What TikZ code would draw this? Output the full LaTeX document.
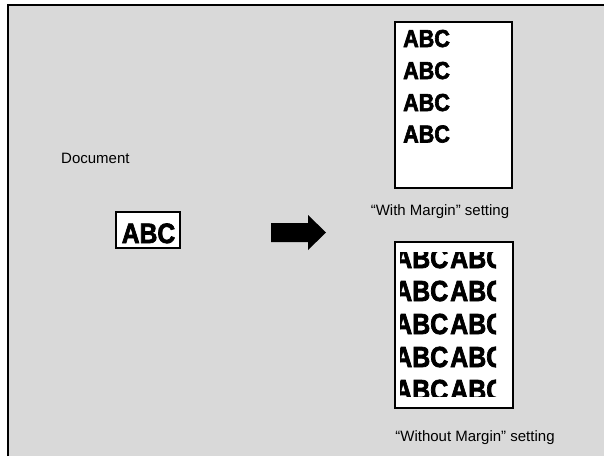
\documentclass[tikz,border=0pt]{standalone}
\usepackage{fontspec}
\setmainfont{Liberation Sans}
\newfontfamily\abcLarge[FakeStretch=0.88,FakeBold=2.5]{Liberation Sans}
\newfontfamily\abcSerre[FakeStretch=0.86,FakeBold=2.5]{Liberation Sans}
\usetikzlibrary{positioning}
\definecolor{fondGris}{RGB}{217,217,217}

\begin{document}
\begin{tikzpicture}[x=1pt, y=-1pt,
  page/.style={draw=black, line width=1.6pt, fill=white, inner sep=0pt},
  legende/.style={font=\fontsize{15}{17}\selectfont, inner sep=0pt},
  abc/.style={font=\abcLarge\bfseries\fontsize{24.5}{24}\selectfont, anchor=base west, inner sep=0pt},
  abcPlein/.style={font=\abcSerre\bfseries\fontsize{29}{29}\selectfont, anchor=base west, inner sep=0pt}]

\useasboundingbox (0,0) rectangle (604,456);
\fill[fondGris] (8,5) rectangle (604,456);
\draw[line width=1.6pt] (8,456) -- (8,5) -- (604,5);

% document d'origine
\node[legende, anchor=west] (docTitre) at (61,158) {Document};
\node[page, minimum width=64pt, minimum height=36pt] (docBoite) at (148,230) {};
\node[font=\abcLarge\bfseries\fontsize{28}{28}\selectfont, anchor=base, inner sep=0pt] (docTexte) at (148.5,243) {ABC};

% fleche
\fill (271,223) -- (308,223) -- (308,215) -- (326,232.5) -- (308,250) -- (308,242) -- (271,242) -- cycle;

% avec marge
\node[page, minimum width=117pt, minimum height=166pt] (pageMarge) at (453.5,105) {};
\node[abc] (ligneA) at (403,47) {ABC};
\node[abc] (ligneB) at (403,79) {ABC};
\node[abc] (ligneC) at (403,111) {ABC};
\node[abc] (ligneD) at (403,142.5) {ABC};
\node[legende] (legMarge) at (440,212) {``With Margin'' setting};

% sans marge
\node[page, minimum width=118pt, minimum height=166pt] (pagePleine) at (454,325) {};
\begin{scope}
  \clip (400,252) rectangle (496,396);
  \foreach \yy in {268,301,334,367,400}
    \node[abcPlein] (plein\yy) at (394,\yy) {ABC\hspace{2pt}ABC\hspace{2pt}ABC};
\end{scope}
\node[legende] (legPleine) at (475,438) {``Without Margin'' setting};

\end{tikzpicture}
\end{document}
